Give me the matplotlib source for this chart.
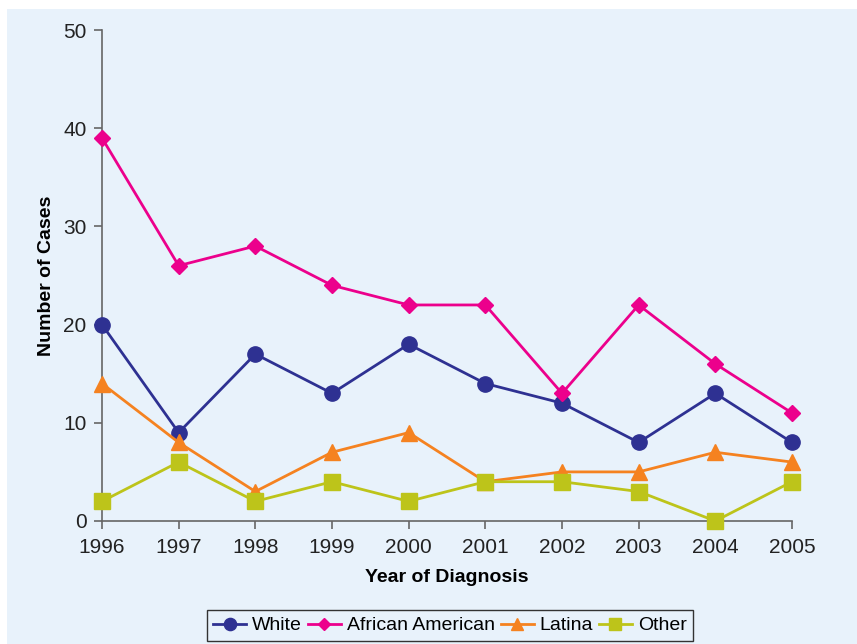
import matplotlib
matplotlib.use("Agg")
import matplotlib.pyplot as plt
from matplotlib.patches import Rectangle

years = [1996, 1997, 1998, 1999, 2000, 2001, 2002, 2003, 2004, 2005]
white = [20, 9, 17, 13, 18, 14, 12, 8, 13, 8]
african_american = [39, 26, 28, 24, 22, 22, 13, 22, 16, 11]
latina = [14, 8, 3, 7, 9, 4, 5, 5, 7, 6]
other = [2, 6, 2, 4, 2, 4, 4, 3, 0, 4]

bg = '#E8F2FB'
plt.rcParams['font.family'] = ['Liberation Sans', 'DejaVu Sans']

fig = plt.figure(figsize=(8.57, 6.44), dpi=100, facecolor='white')
fig.patches.append(Rectangle((7/857, 0), 1, 1 - 9/644, transform=fig.transFigure,
                             facecolor=bg, edgecolor='none', zorder=-1))

ax = fig.add_axes([102/857, 1 - 521/644, 690/857, 491/644])
ax.set_facecolor('none')

series = [
    ('White', white, '#2E3192', 'o', 11),
    ('African American', african_american, '#EC008C', 'D', 8),
    ('Latina', latina, '#F58220', '^', 11),
    ('Other', other, '#BDC41A', 's', 11),
]
for name, vals, col, mk, ms in series:
    ax.plot(years, vals, color=col, marker=mk, markersize=ms, lw=2,
            label=name, clip_on=False, zorder=3)

ax.set_xlim(1996, 2005)
ax.set_ylim(0, 50)
ax.set_xticks(years)
ax.set_yticks(range(0, 51, 10))
for s in ['top', 'right']:
    ax.spines[s].set_visible(False)
for s in ['left', 'bottom']:
    ax.spines[s].set_color('#666666')
    ax.spines[s].set_linewidth(1.2)
ax.tick_params(direction='out', length=6, color='#666666', labelsize=15,
               labelcolor='#222222', width=1.2)
ax.tick_params(axis='y', pad=5)
ax.tick_params(axis='x', pad=6)

ax.set_ylabel('Number of Cases', fontsize=14, fontweight='bold', labelpad=6)
ax.set_xlabel('Year of Diagnosis', fontsize=14, fontweight='bold', labelpad=9)

leg = fig.legend(loc='upper center', bbox_to_anchor=(450/857, 1 - 610/644), ncol=4,
                 fontsize=14, frameon=True, fancybox=False, edgecolor='#333333',
                 facecolor=bg, framealpha=1, handlelength=1.7, handletextpad=0.3,
                 columnspacing=0.3, borderpad=0.35, borderaxespad=0, markerscale=0.8)
leg.get_frame().set_linewidth(1)

fig.savefig('out.png', dpi=100, facecolor=fig.get_facecolor())
